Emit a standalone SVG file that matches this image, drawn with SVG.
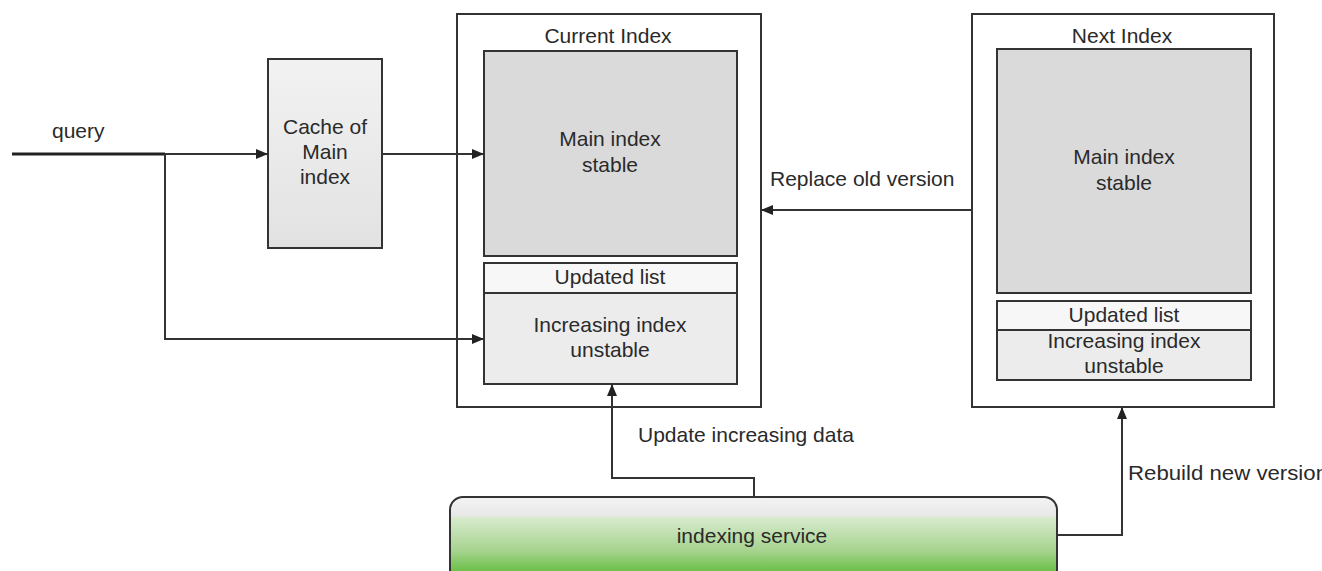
<svg xmlns="http://www.w3.org/2000/svg" width="1322" height="571" viewBox="0 0 1322 571">
<style>
text{font-family:"Liberation Sans",Arial,sans-serif;font-size:21px;fill:#2a2a2a}
.c{text-anchor:middle}
.box{stroke:#333;stroke-width:2}
.outer{fill:#fff;stroke:#333;stroke-width:2}
.ln{fill:none;stroke:#333;stroke-width:2}
</style>
<defs>
<marker id="ah" viewBox="0 0 12 10" refX="12" refY="5" markerWidth="12" markerHeight="10" markerUnits="userSpaceOnUse" orient="auto">
<path d="M0,0 L12,5 L0,10 z" fill="#222"/>
</marker>
<linearGradient id="green" x1="0" y1="0" x2="0" y2="1">
<stop offset="0" stop-color="#f4f4f4"/>
<stop offset="0.2" stop-color="#e8e8e8"/>
<stop offset="0.24" stop-color="#d6eacc"/>
<stop offset="0.6" stop-color="#a6d38e"/>
<stop offset="0.82" stop-color="#6cc04a"/>
<stop offset="1" stop-color="#5cb83a"/>
</linearGradient>
<linearGradient id="cache" x1="0" y1="0" x2="0" y2="1">
<stop offset="0" stop-color="#f2f2f2"/>
<stop offset="1" stop-color="#e2e2e2"/>
</linearGradient>
</defs>
<rect width="1322" height="571" fill="#fff"/>

<g id="cache-node">
<rect class="box" x="268" y="59" width="114" height="189" fill="url(#cache)"/>
<text class="c" x="325" y="134">Cache of</text>
<text class="c" x="325" y="159">Main</text>
<text class="c" x="325" y="184">index</text>
</g>

<g id="current-index">
<rect class="outer" x="457" y="14" width="304" height="393"/>
<text class="c" x="608" y="43">Current Index</text>
<g id="current-main">
<rect class="box" x="484" y="51" width="253" height="205" fill="#dadada"/>
<text class="c" x="610" y="146">Main index</text>
<text class="c" x="610" y="172">stable</text>
</g>
<g id="current-updated">
<rect class="box" x="484" y="263" width="253" height="30" fill="#f7f7f7"/>
<text class="c" x="610" y="284">Updated list</text>
</g>
<g id="current-increasing">
<rect class="box" x="484" y="293" width="253" height="91" fill="#ececec"/>
<text class="c" x="610" y="332">Increasing index</text>
<text class="c" x="610" y="357">unstable</text>
</g>
</g>

<g id="next-index">
<rect class="outer" x="972" y="14" width="302" height="393"/>
<text class="c" x="1122" y="43">Next Index</text>
<g id="next-main">
<rect class="box" x="997" y="49" width="254" height="244" fill="#dadada"/>
<text class="c" x="1124" y="164">Main index</text>
<text class="c" x="1124" y="190">stable</text>
</g>
<g id="next-updated">
<rect class="box" x="997" y="301" width="254" height="29" fill="#f7f7f7"/>
<text class="c" x="1124" y="322">Updated list</text>
</g>
<g id="next-increasing">
<rect class="box" x="997" y="330" width="254" height="50" fill="#ececec"/>
<text class="c" x="1124" y="348">Increasing index</text>
<text class="c" x="1124" y="373">unstable</text>
</g>
</g>

<g id="indexing-service">
<rect x="450" y="497" width="607" height="90" rx="13" ry="13" fill="url(#green)" stroke="#333" stroke-width="2"/>
<text class="c" x="752" y="543">indexing service</text>
</g>

<g id="connectors">
<line x1="12" y1="154" x2="165" y2="154" stroke="#222" stroke-width="3"/>
<line class="ln" x1="165" y1="154" x2="268" y2="154" marker-end="url(#ah)"/>
<polyline class="ln" points="165,154 165,339 484,339" marker-end="url(#ah)"/>
<line class="ln" x1="382" y1="154" x2="484" y2="154" marker-end="url(#ah)"/>
<line class="ln" x1="972" y1="210" x2="761" y2="210" marker-end="url(#ah)"/>
<polyline class="ln" points="754,497 754,478 612,478 612,384" marker-end="url(#ah)"/>
<polyline class="ln" points="1057,535 1122,535 1122,407" marker-end="url(#ah)"/>
<text x="52" y="138">query</text>
<text x="770" y="186">Replace old version</text>
<text x="638" y="442">Update increasing data</text>
<text x="1128" y="480" textLength="200" lengthAdjust="spacingAndGlyphs">Rebuild new version</text>
</g>
</svg>
